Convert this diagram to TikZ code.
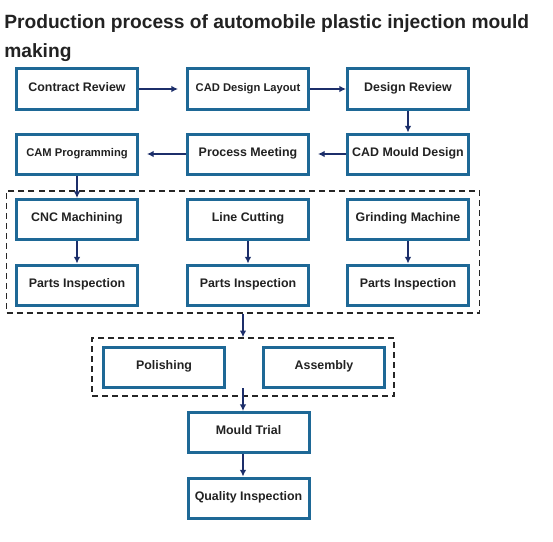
\documentclass[tikz,border=0pt]{standalone}
\usepackage{fontspec}
\setmainfont{Liberation Sans}
\usetikzlibrary{arrows.meta}

\definecolor{boxblue}{RGB}{30,104,150}
\definecolor{arrownavy}{RGB}{28,46,106}
\definecolor{inkgray}{RGB}{34,34,34}

\begin{document}
\begin{tikzpicture}[x=0.75pt,y=-0.75pt]

      \useasboundingbox (0,0) rectangle (553,542);

      \node[anchor=north west, align=left, inner sep=0pt, text=inkgray,
            font=\bfseries\fontsize{14.4}{21.75}\selectfont] (title) at (4,14)
            {Production process of automobile plastic injection mould\\making};

      % dashed groups
      \begin{scope}[every node/.style={draw=black!85, line width=1.2pt, dash pattern=on 4.5pt off 3pt}]
        \node[minimum width=354.75pt, minimum height=91.5pt] (g1) at (243,252) {};
        \node[minimum width=226.5pt, minimum height=43.5pt] (g2) at (243,367) {};
      \end{scope}

      \begin{scope}[every node/.style={draw=boxblue, line width=2.25pt, fill=white, text=inkgray,
                    minimum width=90.75pt, minimum height=30pt, text height=7pt, text depth=4pt,
                    font=\bfseries\fontsize{9.3}{11}\selectfont}]
        \node (1)  at (77,89)     {Contract Review};
        \node[font=\bfseries\fontsize{8.4}{10}\selectfont] (2)  at (248,89) {CAD Design Layout};
        \node (3)  at (408,89)    {Design Review};
        \node (4)  at (408,154)   {CAD Mould Design};
        \node (5)  at (248,154)   {Process Meeting};
        \node[font=\bfseries\fontsize{8.4}{10}\selectfont] (6)  at (77,154) {CAM Programming};
        \node (7)  at (77,219.5)    {CNC Machining};
        \node (8)  at (248,219.5)   {Line Cutting};
        \node (9)  at (408,219.5)   {Grinding Machine};
        \node (10) at (77,285)      {Parts Inspection};
        \node (11) at (248,285)     {Parts Inspection};
        \node (12) at (408,285)     {Parts Inspection};
        \node (13) at (164,367.5)   {Polishing};
        \node (14) at (324,367.5)   {Assembly};
        \node (15) at (248.5,432.5) {Mould Trial};
        \node (16) at (248.5,498)   {Quality Inspection};
      \end{scope}

      \coordinate (m) at (243,388);

      \begin{scope}[every edge/.style={draw=arrownavy, line width=1.5pt, -{Latex[length=5pt,width=5pt]}}]
        \path (1)  edge[shorten >=6pt] (2);
        \path (2)  edge (3);
        \path (3)  edge (4);
        \path (4)  edge[shorten >=6pt] (5);
        \path (5)  edge[shorten >=6pt] (6);
        \path (6)  edge (7);
        \path (7)  edge (10);
        \path (8)  edge (11);
        \path (9)  edge (12);
        \path (g1) edge (g2);
        \path (m)  edge (m |- 15.north);
        \path (15.south -| m) edge (16.north -| m);
      \end{scope}

    \end{tikzpicture}
\end{document}
